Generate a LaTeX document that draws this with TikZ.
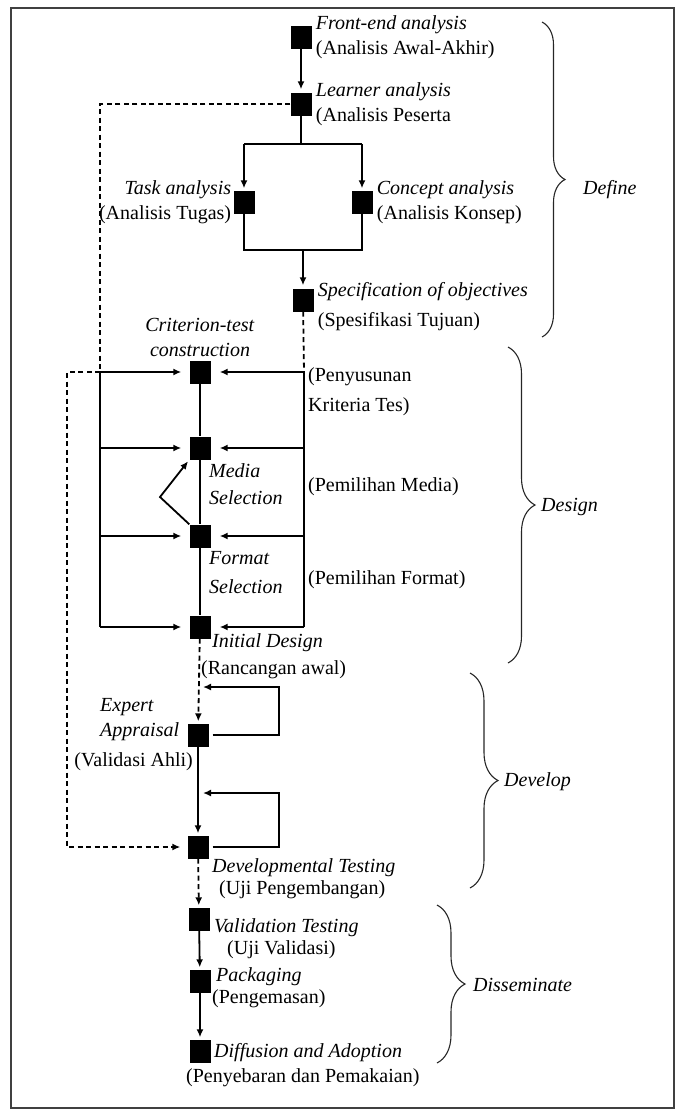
\documentclass[tikz,border=0pt]{standalone}
\usepackage{fontspec}
\setmainfont{Liberation Serif}
\usetikzlibrary{arrows.meta,positioning,calc,decorations.pathreplacing}

\begin{document}
\begin{tikzpicture}[x=1pt, y=-1pt,
font=\fontsize{20}{25}\selectfont,
blk/.style={rectangle, fill=black, minimum width=21pt, minimum height=23pt, inner sep=0pt},
lbl/.style={inner sep=0pt, align=left},
link/.style={line width=1.8pt},
arrow/.style={-{Latex[length=8pt,width=7pt]}, line width=1.8pt},
dsh/.style={line width=1.8pt, dash pattern=on 5pt off 3.5pt},
brc/.style={decorate, decoration={brace, amplitude=#1}, line width=1.1pt, black!85},
brc/.default=24
]
\useasboundingbox (0,0) rectangle (679,1112);
\draw[line width=1.8pt, black!75] (11,8) rectangle (674,1108);

% Define
\node[blk] (fe) at (301,37) {};
\node[blk] (la) at (301,104) {};
\node[blk] (ta) at (244,202) {};
\node[blk] (ca) at (362,202) {};
\node[blk] (so) at (303,300) {};

% Design
\node[blk] (ct) at (200,372) {};
\node[blk] (ms) at (200,448) {};
\node[blk] (fs) at (200,536) {};
\node[blk] (id) at (200,627) {};

% Develop
\node[blk] (ea) at (198,735) {};
\node[blk] (dt) at (198,847) {};

% Disseminate
\node[blk] (vt) at (199,919) {};
\node[blk] (pk) at (200,981) {};
\node[blk] (da) at (200,1051) {};

% Helper points
\coordinate (splitT) at (301,144);
\coordinate (joinB) at (303,250);
\coordinate (railL) at (100,372);
\coordinate (railR) at (304,372);
\coordinate (farL) at (67,372);
\coordinate (bend) at (160,497);
\coordinate (loopA) at (279,687);
\coordinate (loopB) at (279,793);

% Arrows
\draw[arrow, shorten >=3pt] (fe) -- (la);
\draw[link] (la) -- (splitT);
\draw[link] (splitT -| ta) -- (splitT -| ca);
\draw[arrow, shorten >=2pt] (splitT -| ta) -- (ta);
\draw[arrow, shorten >=2pt] (splitT -| ca) -- (ca);
\draw[link] (ta) |- (joinB) -| (ca);
\draw[arrow, shorten >=3pt] (joinB) -- (so);
\draw[dsh] (so) -- (railR);
\draw[dsh] (la) -| (railL);
\draw[link] (railL) -- (id -| railL);
\draw[link] (railR) -- (id -| railR);
\foreach \b in {ct,ms,fs,id} {
  \draw[arrow, shorten >=8pt] (\b -| railL) -- (\b);
  \draw[arrow, shorten >=9pt] (\b -| railR) -- (\b);
}
\draw[link] (ct) -- (ms) -- (fs) -- (id);
\draw[arrow, shorten >=2pt] (fs.north west) -- (bend) -- (ms.south west);
\draw[dsh, arrow, shorten >=7pt] (railL) -- (farL) |- (dt);
\draw[dsh, arrow, shorten >=2pt] (id) -- (ea);
\draw[arrow, shorten <=4pt, shorten >=5pt] (ea) -| (loopA) -- (loopA -| ea);
\draw[arrow, shorten >=2pt] (ea) -- (dt);
\draw[arrow, shorten <=4pt, shorten >=5pt] (dt) -| (loopB) -- (loopB -| dt);
\draw[dsh, arrow, shorten >=2pt] (dt) -- (vt);
\draw[arrow, shorten >=2pt] (vt) -- (pk);
\draw[arrow, shorten >=2pt] (pk) -- (da);

% Braces
\draw[brc=23] (542,22) -- (542,337);
\draw[brc=27] (508,347) -- (508,663);
\draw[brc=28] (470,673) -- (470,888);
\draw[brc=28] (437,905) -- (437,1063);
\node[lbl, anchor=west] (define) at (583,190) {\textit{Define}};
\node[lbl, anchor=west] (design) at (541,507) {\textit{Design}};
\node[lbl, anchor=west] (develop) at (504,782) {\textit{Develop}};
\node[lbl, anchor=west] (dissem) at (473,985) {\textit{Disseminate}};

% Labels
\node[lbl, right=4pt of fe] (feT) {\textit{Front-end analysis}\\(Analisis Awal-Akhir)};
\node[lbl, right=4pt of la] (laT) {\textit{Learner analysis}\\(Analisis Peserta};
\node[lbl, left=2pt of ta, align=right] (taT) {\textit{Task analysis}\\(Analisis Tugas)};
\node[lbl, right=4pt of ca] (caT) {\textit{Concept analysis}\\(Analisis Konsep)};
\node[lbl, right=4pt of so, yshift=-7pt] (soT) {\textit{Specification of objectives}\\[5pt](Spesifikasi Tujuan)};
\node[lbl, above=3pt of ct, align=center] (ctT) {\textit{Criterion-test}\\\textit{construction}};
\node[lbl, anchor=west] (ctR) at (308,392) {(Penyusunan\\[5pt]Kriteria Tes)};
\node[lbl, anchor=west] (msT) at (209,484) {\textit{Media}\\[2pt]\textit{Selection}};
\node[lbl, anchor=west] (msR) at (308,487) {(Pemilihan Media)};
\node[lbl, anchor=west] (fsT) at (209,573) {\textit{Format}\\[4pt]\textit{Selection}};
\node[lbl, anchor=west] (fsR) at (308,580) {(Pemilihan Format)};
\node[lbl, anchor=west] (idT) at (212,643) {\textit{Initial Design}};
\node[lbl, anchor=west] (idR) at (201,670) {(Rancangan awal)};
\node[lbl, anchor=west] (eaT) at (100,720) {\textit{Expert}\\\textit{Appraisal}};
\node[lbl, anchor=east] (eaR) at (193,762) {(Validasi Ahli)};
\node[lbl, anchor=west] (dtT) at (212,868) {\textit{Developmental Testing}};
\node[lbl, anchor=west] (dtR) at (219,890) {(Uji Pengembangan)};
\node[lbl, anchor=west] (vtT) at (214,928) {\textit{Validation Testing}};
\node[lbl, anchor=west] (vtR) at (227,950) {(Uji Validasi)};
\node[lbl, anchor=west] (pkT) at (216,977) {\textit{Packaging}};
\node[lbl, anchor=west] (pkR) at (212,999) {(Pengemasan)};
\node[lbl, anchor=west] (daT) at (214,1053) {\textit{Diffusion and Adoption}};
\node[lbl, anchor=west] (daR) at (186,1078) {(Penyebaran dan Pemakaian)};

\end{tikzpicture}
\end{document}
